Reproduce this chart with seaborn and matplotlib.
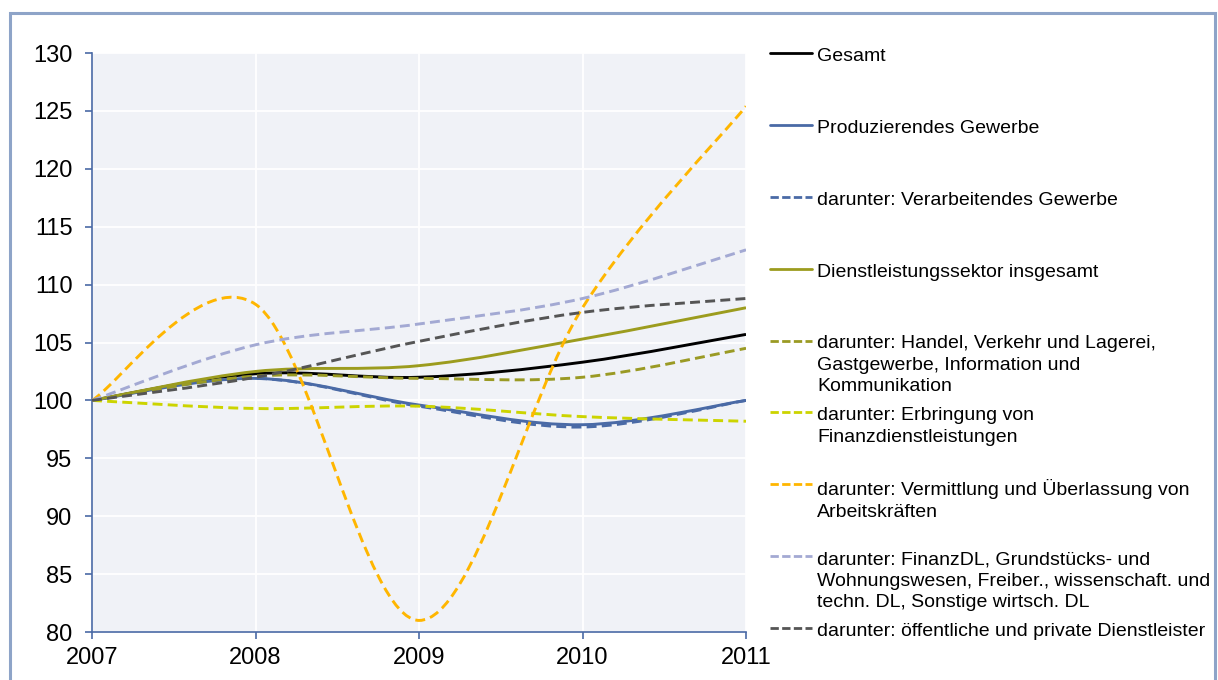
import numpy as np
import matplotlib
matplotlib.use("Agg")
import matplotlib.pyplot as plt
from matplotlib.path import Path
from matplotlib.patches import PathPatch, Rectangle
from matplotlib.lines import Line2D
import seaborn as sns

# Index values (2007 = 100)
years = [2007, 2008, 2009, 2010, 2011]
gesamt = [100.0, 102.3, 102.0, 103.3, 105.7]
produzierendes = [100.0, 101.9, 99.6, 97.9, 100.0]
verarbeitendes = [100.0, 101.9, 99.5, 97.7, 100.0]
dienstleistung = [100.0, 102.5, 103.0, 105.3, 108.0]
handel = [100.0, 102.1, 101.9, 102.0, 104.5]
finanz = [100.0, 99.3, 99.5, 98.6, 98.2]
vermittlung = [100.0, 108.3, 81.0, 108.0, 125.4]
finanz_dl = [100.0, 104.8, 106.6, 108.8, 113.0]
oeffentlich = [100.0, 102.0, 105.1, 107.6, 108.8]

labels = [
    "Gesamt",
    "Produzierendes Gewerbe",
    "darunter: Verarbeitendes Gewerbe",
    "Dienstleistungssektor insgesamt",
    "darunter: Handel, Verkehr und Lagerei,\nGastgewerbe, Information und\nKommunikation",
    "darunter: Erbringung von\nFinanzdienstleistungen",
    "darunter: Vermittlung und Überlassung von\nArbeitskräften",
    "darunter: FinanzDL, Grundstücks- und\nWohnungswesen, Freiber., wissenschaft. und\ntechn. DL, Sonstige wirtsch. DL",
    "darunter: öffentliche und private Dienstleister",
]
series = [gesamt, produzierendes, verarbeitendes, dienstleistung, handel,
          finanz, vermittlung, finanz_dl, oeffentlich]
colors = ["#000000", "#4A6AA6", "#4A6AA6", "#9C9C1E", "#9A9A24",
          "#CCD400", "#FFB600", "#A3A9D3", "#555555"]
dashed = [False, False, True, False, True, True, True, True, True]

y_ticks = list(range(80, 131, 5))

sns.set_theme(style="darkgrid", rc={
    "axes.facecolor": "#F0F2F7",
    "grid.color": "white",
    "grid.linewidth": 1.3,
})
plt.rcParams["font.family"] = ["Liberation Sans", "DejaVu Sans"]

W, H = 1218, 680
fig = plt.figure(figsize=(W / 100, H / 100), dpi=100)
fig.patch.set_facecolor("white")

# outer frame
fig.add_artist(Rectangle((10 / W, -0.1), (1215 - 10) / W, 1.1 - 13 / H,
                         transform=fig.transFigure, fill=False,
                         edgecolor="#8EA4C8", linewidth=2.2, clip_on=False))

ax = fig.add_axes([92 / W, 48 / H, (746 - 92) / W, (632 - 53) / H])


def smooth_path(x, y):
    """Cubic Bezier path through the points (spline-like smoothing)."""
    pts = np.column_stack([x, y]).astype(float)
    ext = np.vstack([pts[0], pts, pts[-1]])
    verts = [pts[0]]
    codes = [Path.MOVETO]
    for i in range(len(pts) - 1):
        p0, p1, p2, p3 = ext[i], ext[i + 1], ext[i + 2], ext[i + 3]
        c1 = p1 + (p2 - p0) / 6.0
        c2 = p2 - (p3 - p1) / 6.0
        verts += [c1, c2, p2]
        codes += [Path.CURVE4] * 3
    return Path(verts, codes)


for vals, col, dsh in zip(series, colors, dashed):
    ls = (0, (3.4, 1.8)) if dsh else "-"
    patch = PathPatch(smooth_path(years, vals), fill=False, edgecolor=col,
                      linewidth=2.1, linestyle=ls, capstyle="butt",
                      joinstyle="round", zorder=3)
    ax.add_patch(patch)

ax.set_xlim(years[0], years[-1])
ax.set_ylim(y_ticks[0], y_ticks[-1])
ax.set_xticks(years)
ax.set_xticklabels([str(y) for y in years])
ax.set_yticks(y_ticks)
ax.set_yticklabels([str(v) for v in y_ticks])
ax.grid(True, color="white", linewidth=1.3)
ax.set_axisbelow(True)

for side in ["top", "right"]:
    ax.spines[side].set_visible(False)
for side in ["left", "bottom"]:
    ax.spines[side].set_visible(True)
    ax.spines[side].set_color("#4A6AA6")
    ax.spines[side].set_linewidth(1.2)

ax.tick_params(axis="both", which="major", direction="out", length=5,
               width=1.2, color="#4A6AA6", labelsize=17, labelcolor="black",
               bottom=True, left=True)
ax.tick_params(axis="y", pad=9)
ax.tick_params(axis="x", pad=6)

# legend column at the right
leg_y = np.linspace(53, 628, len(labels))
for lab, col, dsh, ypx in zip(labels, colors, dashed, leg_y):
    yf = 1 - ypx / H
    ln = Line2D([770 / W, 812 / W], [yf, yf], transform=fig.transFigure,
                color=col, linewidth=2.0,
                linestyle=(0, (3.0, 1.2)) if dsh else "-")
    fig.add_artist(ln)
    fig.text(817 / W, 1 - (ypx - 5) / H, lab, fontsize=14, color="black",
             va="top", ha="left", linespacing=1.34)

fig.savefig("out.png", dpi=100)
